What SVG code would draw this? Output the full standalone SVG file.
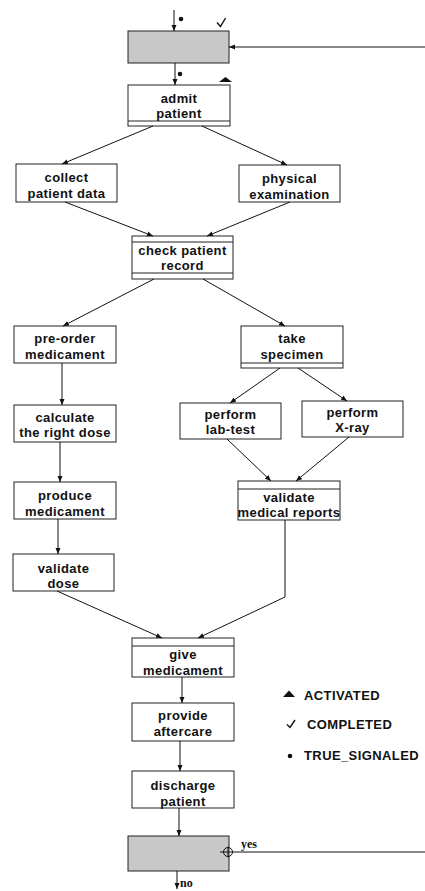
<svg xmlns="http://www.w3.org/2000/svg" width="425" height="891" viewBox="0 0 425 891">
  <style>
    .box { fill: #ffffff; stroke: #222222; stroke-width: 1; }
    .gate { fill: #c8c8c8; stroke: #222222; stroke-width: 1; }
    .band { stroke: #222222; stroke-width: 1; }
    .lbl { font-family: "Liberation Sans", Arial, sans-serif; font-weight: bold; font-size: 13px; letter-spacing: 0.4px; text-anchor: middle; fill: #111111; }
    .legend { font-family: "Liberation Sans", Arial, sans-serif; font-weight: bold; font-size: 13px; letter-spacing: 0.4px; fill: #111111; }
    .branch { font-family: "Liberation Serif", "Times New Roman", serif; font-weight: bold; font-size: 12px; fill: #111111; }
    .edge { fill: none; stroke: #111111; stroke-width: 1; marker-end: url(#arrow); }
    .plain { fill: none; stroke: #111111; stroke-width: 1; }
  </style>
  <defs>
    <marker id="arrow" markerUnits="userSpaceOnUse" markerWidth="7" markerHeight="6" refX="6" refY="3" orient="auto">
      <path d="M0,0.5 L6,3 L0,5.5 z" fill="#111111"/>
    </marker>
  </defs>

  <rect width="425" height="891" fill="#ffffff"/>

  <g id="start-gate">
    <rect class="gate" x="128" y="31" width="101" height="32"/>
  </g>

  <g id="admit-patient">
    <rect class="box" x="128" y="85" width="102" height="41"/>
    <line class="band" x1="128" y1="121" x2="230" y2="121"/>
    <text class="lbl" x="179" y="103">admit</text>
    <text class="lbl" x="179" y="118">patient</text>
  </g>

  <g id="collect-patient-data">
    <rect class="box" x="16" y="164" width="101" height="38"/>
    <text class="lbl" x="66.5" y="182">collect</text>
    <text class="lbl" x="66.5" y="198">patient data</text>
  </g>

  <g id="physical-examination">
    <rect class="box" x="239" y="165" width="101" height="37"/>
    <text class="lbl" x="289.5" y="183">physical</text>
    <text class="lbl" x="289.5" y="199">examination</text>
  </g>

  <g id="check-patient-record">
    <rect class="box" x="132" y="236" width="101" height="43"/>
    <line class="band" x1="132" y1="242" x2="233" y2="242"/>
    <line class="band" x1="132" y1="273" x2="233" y2="273"/>
    <text class="lbl" x="182.5" y="255">check patient</text>
    <text class="lbl" x="182.5" y="270">record</text>
  </g>

  <g id="pre-order-medicament">
    <rect class="box" x="14" y="326" width="102" height="37"/>
    <text class="lbl" x="65" y="343">pre-order</text>
    <text class="lbl" x="65" y="359">medicament</text>
  </g>

  <g id="take-specimen">
    <rect class="box" x="241" y="326" width="102" height="42"/>
    <line class="band" x1="241" y1="363" x2="343" y2="363"/>
    <text class="lbl" x="292" y="343">take</text>
    <text class="lbl" x="292" y="359">specimen</text>
  </g>

  <g id="calculate-the-right-dose">
    <rect class="box" x="14" y="405" width="102" height="37"/>
    <text class="lbl" x="65" y="422">calculate</text>
    <text class="lbl" x="65" y="437">the right dose</text>
  </g>

  <g id="perform-lab-test">
    <rect class="box" x="180" y="403" width="101" height="36"/>
    <text class="lbl" x="230.5" y="419">perform</text>
    <text class="lbl" x="230.5" y="434">lab-test</text>
  </g>

  <g id="perform-x-ray">
    <rect class="box" x="302" y="401" width="101" height="36"/>
    <text class="lbl" x="352.5" y="417">perform</text>
    <text class="lbl" x="352.5" y="432">X-ray</text>
  </g>

  <g id="produce-medicament">
    <rect class="box" x="14" y="482" width="102" height="37"/>
    <text class="lbl" x="65" y="500">produce</text>
    <text class="lbl" x="65" y="516">medicament</text>
  </g>

  <g id="validate-medical-reports">
    <rect class="box" x="238" y="481" width="102" height="39"/>
    <line class="band" x1="238" y1="489" x2="340" y2="489"/>
    <text class="lbl" x="289" y="502">validate</text>
    <text class="lbl" x="289" y="517">medical reports</text>
  </g>

  <g id="validate-dose">
    <rect class="box" x="13" y="554" width="101" height="37"/>
    <text class="lbl" x="63.5" y="573">validate</text>
    <text class="lbl" x="63.5" y="588">dose</text>
  </g>

  <g id="give-medicament">
    <rect class="box" x="132" y="638" width="102" height="39"/>
    <line class="band" x1="132" y1="646" x2="234" y2="646"/>
    <text class="lbl" x="183" y="659">give</text>
    <text class="lbl" x="183" y="675">medicament</text>
  </g>

  <g id="provide-aftercare">
    <rect class="box" x="132" y="703" width="102" height="38"/>
    <text class="lbl" x="183" y="720">provide</text>
    <text class="lbl" x="183" y="736">aftercare</text>
  </g>

  <g id="discharge-patient">
    <rect class="box" x="132" y="771" width="102" height="37"/>
    <text class="lbl" x="183" y="790">discharge</text>
    <text class="lbl" x="183" y="806">patient</text>
  </g>

  <g id="end-gate">
    <rect class="gate" x="128" y="836" width="101" height="35"/>
  </g>

  <!-- connectors -->
  <g id="connectors">
    <path class="edge" d="M174,10 L174,31"/>
    <path class="edge" d="M425,47 L229,47"/>
    <path class="edge" d="M175,63 L175,85"/>
    <path class="edge" d="M153,126 L62,164"/>
    <path class="edge" d="M202,126 L287,165"/>
    <path class="edge" d="M65,202 L153,236"/>
    <path class="edge" d="M290,202 L207,236"/>
    <path class="edge" d="M154,279 L63,326"/>
    <path class="edge" d="M203,279 L285,326"/>
    <path class="edge" d="M62,363 L62,405"/>
    <path class="edge" d="M60,442 L60,482"/>
    <path class="edge" d="M58,519 L58,554"/>
    <path class="edge" d="M280,368 L230,403"/>
    <path class="edge" d="M298,368 L347,401"/>
    <path class="edge" d="M227,439 L271,481"/>
    <path class="edge" d="M349,437 L296,481"/>
    <path class="edge" d="M285,520 L285,597 L198,638"/>
    <path class="edge" d="M57,591 L162,638"/>
    <path class="edge" d="M182,677 L182,703"/>
    <path class="edge" d="M180,741 L180,771"/>
    <path class="edge" d="M179,808 L179,836"/>
    <path class="edge" d="M177,871 L177,889"/>
    <path class="plain" d="M220,852 L425,852"/>
    <circle cx="228" cy="852" r="4.5" fill="none" stroke="#111111" stroke-width="1"/>
    <path class="plain" d="M228,846.5 L228,857.5"/>
    <text class="branch" x="241" y="848">yes</text>
    <text class="branch" x="180" y="887">no</text>
  </g>

  <!-- state markers -->
  <g id="markers">
    <circle cx="181" cy="19" r="2.3" fill="#111111"/>
    <path d="M217,22.5 L220.5,26.5 L225.5,18" fill="none" stroke="#111111" stroke-width="1.4"/>
    <circle cx="180" cy="74" r="2.3" fill="#111111"/>
    <path d="M219,82 L225.5,77 L232,82 z" fill="#111111"/>
  </g>

  <!-- legend -->
  <g id="legend">
    <path d="M283,697 L289,690.5 L295,697 z" fill="#111111"/>
    <text class="legend" x="304" y="700">ACTIVATED</text>
    <path d="M287,724.5 L290,727.5 L295,720" fill="none" stroke="#111111" stroke-width="1.4"/>
    <text class="legend" x="307" y="729">COMPLETED</text>
    <circle cx="290" cy="756" r="2.3" fill="#111111"/>
    <text class="legend" x="304" y="760">TRUE_SIGNALED</text>
  </g>
</svg>
